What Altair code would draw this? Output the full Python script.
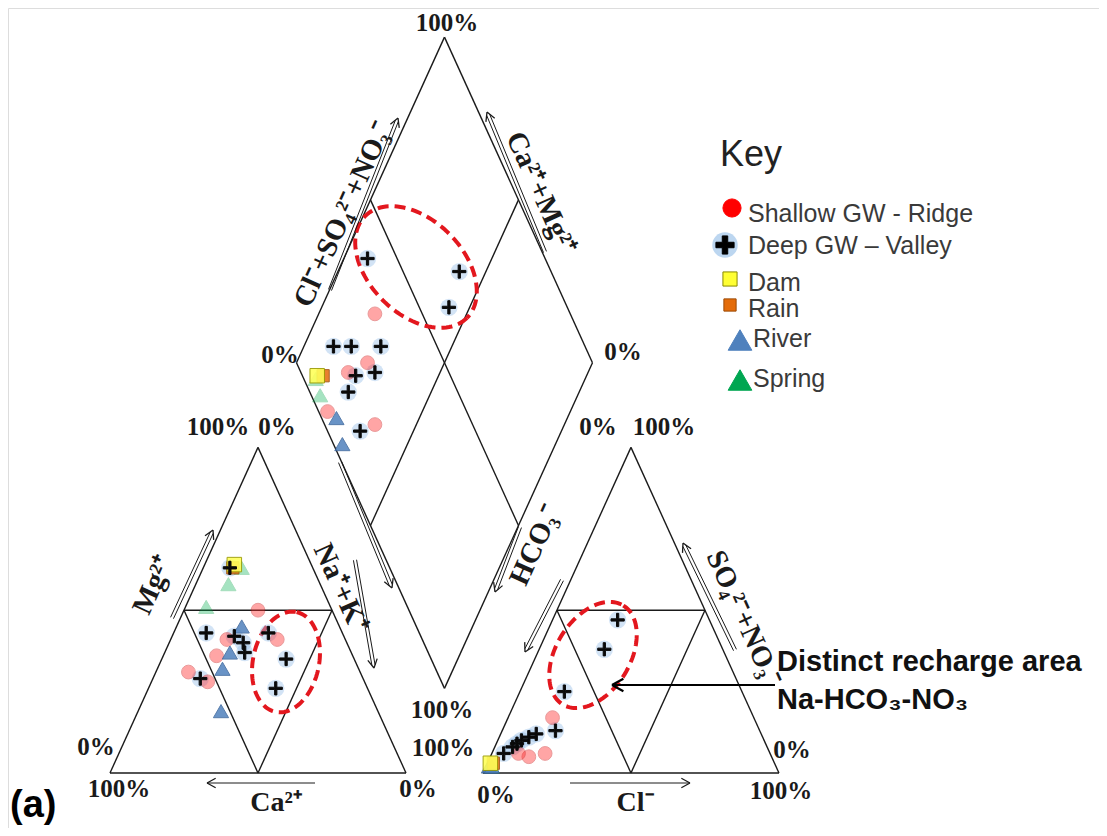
import math
import altair as alt
import pandas as pd

# ---------------- values ----------------
groups = ["Shallow GW - Ridge", "Deep GW \u2013 Valley", "Dam", "Rain", "River", "Spring"]

# Cation triangle: % Ca2+, Mg2+, Na+ + K+
cat_shallow_ca = [25, 40, 46, 58, 53, 23]
cat_shallow_mg = [50, 41, 36, 31, 28, 41]
cat_shallow_nak = [25, 19, 18, 11, 19, 36]
cat_deep_ca = [28, 46, 37, 35, 36, 25, 23, 31, 55]
cat_deep_mg = [63, 43, 42, 40, 37, 43, 35, 26, 29]
cat_deep_nak = [9, 11, 21, 25, 27, 32, 42, 43, 16]
cat_dam_ca, cat_dam_mg, cat_dam_nak = [26], [64], [10]
cat_rain_ca, cat_rain_mg, cat_rain_nak = [27], [63], [10]
cat_river_ca = [33, 41, 46, 53]
cat_river_mg = [45, 37, 32, 19]
cat_river_nak = [22, 22, 22, 28]
cat_spring_ca = [24, 31, 42]
cat_spring_mg = [63, 58, 51]
cat_spring_nak = [13, 11, 7]

# Anion triangle: % HCO3-, Cl-, SO4 2- + NO3-
an_shallow_hco3 = [68, 76, 82, 85]
an_shallow_cl = [15, 18, 13, 9]
an_shallow_so4 = [17, 6, 5, 6]
an_deep_hco3 = [31, 40, 60, 69, 76, 79, 82, 84, 86, 90]
an_deep_cl = [22, 22, 15, 18, 12, 10, 8, 7, 6, 4]
an_deep_so4 = [47, 38, 25, 13, 12, 11, 10, 9, 8, 6]
an_dam_hco3, an_dam_cl, an_dam_so4 = [96], [1], [3]
an_rain_hco3, an_rain_cl, an_rain_so4 = [95], [2], [3]
an_river_hco3, an_river_cl, an_river_so4 = [97, 96], [1, 2], [2, 2]
an_spring_hco3, an_spring_cl, an_spring_so4 = [96], [2], [2]

# Diamond: % Na+ + K+, % Cl- + SO4 2- + NO3-
dia_shallow_nak = [19, 24, 19, 18, 36]
dia_shallow_cl = [34, 24, 16, 3, 17]
dia_deep_nak = [8, 41, 43, 10, 16, 26, 22, 28, 22, 32]
dia_deep_cl = [40, 69, 60, 15, 21, 31, 18, 25, 13, 11]
dia_dam_nak, dia_dam_cl = [9], [5]
dia_rain_nak, dia_rain_cl = [11], [7]
dia_river_nak, dia_river_cl = [22, 28], [5, 3]
dia_spring_nak, dia_spring_cl = [9, 13], [4, 3]

# ---------------- geometry ----------------
H = math.sqrt(3) / 2
GAP = 0.26
OFF = 1 + GAP
B = (1 + GAP / 2, GAP * H)
L = (B[0] - 0.5, B[1] + H)
R = (B[0] + 0.5, B[1] + H)
T = (B[0], B[1] + 2 * H)

W, HH = 1091, 820
SX, SY = 296.0, 376.0
X0 = (8 - 110) / SX
X1 = X0 + W / SX
Y1 = (773 - 8) / SY
Y0 = Y1 - HH / SY


def P(px, py):
    """reference-page pixel -> plot units (for annotations)"""
    return (px - 110) / SX, (773 - py) / SY


xs = alt.Scale(domain=[X0, X1], nice=False, zero=False)
ys = alt.Scale(domain=[Y0, Y1], nice=False, zero=False)


def ex(f="x"):
    return alt.X(f + ":Q", scale=xs, axis=None)


def ey(f="y"):
    return alt.Y(f + ":Q", scale=ys, axis=None)


def mid(a, b):
    return ((a[0] + b[0]) / 2, (a[1] + b[1]) / 2)


segs = []
for o in (0, OFF):
    a, b, c = (o, 0), (o + 1, 0), (o + 0.5, H)
    m1, m2, m3 = mid(a, c), mid(b, c), mid(a, b)
    segs += [(a, b), (a, c), (b, c), (m1, m2), (m1, m3), (m2, m3)]
segs += [(L, T), (T, R), (R, B), (B, L), (mid(L, T), mid(R, B)), (mid(T, R), mid(B, L))]
frame_df = pd.DataFrame([dict(x=s[0][0], y=s[0][1], x2=s[1][0], y2=s[1][1]) for s in segs])

# ---------------- points ----------------
PLUS = "M-1,-0.17H-0.17V-1H0.17V-0.17H1V0.17H0.17V1H-0.17V0.17H-1Z"
PLUS_BIG = "M-1,-0.3H-0.3V-1H0.3V-0.3H1V0.3H0.3V1H-0.3V0.3H-1Z"
STYLE = {
    groups[0]: dict(shape="circle", fill="#ff2a2a", stroke="#cc1010", opacity=0.42, size=190),
    groups[1]: dict(shape=PLUS, fill="#0a0a0a", stroke="#0a0a0a", opacity=1.0, size=175),
    groups[2]: dict(shape="square", fill="#ffff5a", stroke="#9a9a00", opacity=0.9, size=210),
    groups[3]: dict(shape="square", fill="#e46c0a", stroke="#9c4a06", opacity=0.85, size=150),
    groups[4]: dict(shape="triangle-up", fill="#4f81bd", stroke="#3a659c", opacity=0.85, size=230),
    groups[5]: dict(shape="triangle-up", fill="#00b050", stroke="#00a040", opacity=0.35, size=230),
}
DRAW_ORDER = [groups[0], groups[5], groups[4], groups[3], groups[2], groups[1]]

cations = {
    groups[0]: (cat_shallow_mg, cat_shallow_nak),
    groups[1]: (cat_deep_mg, cat_deep_nak),
    groups[2]: (cat_dam_mg, cat_dam_nak),
    groups[3]: (cat_rain_mg, cat_rain_nak),
    groups[4]: (cat_river_mg, cat_river_nak),
    groups[5]: (cat_spring_mg, cat_spring_nak),
}
anions = {
    groups[0]: (an_shallow_cl, an_shallow_so4),
    groups[1]: (an_deep_cl, an_deep_so4),
    groups[2]: (an_dam_cl, an_dam_so4),
    groups[3]: (an_rain_cl, an_rain_so4),
    groups[4]: (an_river_cl, an_river_so4),
    groups[5]: (an_spring_cl, an_spring_so4),
}
diamond = {
    groups[0]: (dia_shallow_nak, dia_shallow_cl),
    groups[1]: (dia_deep_nak, dia_deep_cl),
    groups[2]: (dia_dam_nak, dia_dam_cl),
    groups[3]: (dia_rain_nak, dia_rain_cl),
    groups[4]: (dia_river_nak, dia_river_cl),
    groups[5]: (dia_spring_nak, dia_spring_cl),
}

rows = []
for rank, g in enumerate(DRAW_ORDER):
    st = STYLE[g]
    mg, nak = cations[g]
    for m, n in zip(mg, nak):
        rows.append(dict(x=(n + m / 2) / 100, y=m / 100 * H, group=g, rank=rank, **st))
    cl, so4 = anions[g]
    for c, s in zip(cl, so4):
        rows.append(dict(x=OFF + (c + s / 2) / 100, y=s / 100 * H, group=g, rank=rank, **st))
    na, ss = diamond[g]
    for n, s in zip(na, ss):
        rows.append(dict(x=L[0] + 0.5 * (n + s) / 100, y=L[1] + H * (s - n) / 100,
                         group=g, rank=rank, **st))
pts = pd.DataFrame(rows).sort_values("rank", kind="stable")
deep_pts = pts[pts.group == groups[1]]

# ---------------- annotations ----------------
pct_labels = [("100%", 447, 23), ("0%", 280, 355), ("0%", 623, 352), ("100%", 442, 710),
              ("100%", 218, 427), ("0%", 277, 427), ("0%", 598, 427), ("100%", 664, 427),
              ("0%", 96, 747), ("100%", 119, 789), ("0%", 418, 789), ("100%", 443, 748),
              ("0%", 496, 795), ("100%", 781, 791), ("0%", 792, 750)]
flat_ions = [("Ca\u00b2\u207a", 276, 803, 0), ("Cl\u207b", 635, 803, 0)]
rot_ions = [("Cl\u207b+SO\u2084\u00b2\u207b+NO\u2083\u207b", 343, 214, 294.3),
            ("Ca\u00b2\u207a+Mg\u00b2\u207a", 541, 193, 65.7),
            ("Mg\u00b2\u207a", 153, 585, 294.3), ("Na\u207a+K\u207a", 341, 588, 65.7),
            ("HCO\u2083\u207b", 535, 545, 294.3), ("SO\u2084\u00b2\u207b+NO\u2083\u207b", 744, 618, 65.7)]


def tdf(items):
    out = []
    for it in items:
        x, y = P(it[1], it[2])
        out.append(dict(text=it[0], x=x, y=y, angle=(it[3] if len(it) > 3 else 0)))
    return pd.DataFrame(out)


pct_df = tdf(pct_labels)
flat_df = tdf(flat_ions)
rot_df = tdf(rot_ions)

# arrows: (start px, end px, double shaft?)
arrows = [(330, 290, 398, 118, True), (545, 252, 487, 112, True), (172, 618, 213, 530, True),
          (340, 462, 392, 588, True), (355, 560, 374, 668, True), (520, 527, 495, 592, True),
          (562, 580, 525, 652, True), (735, 650, 683, 543, True), (315, 783, 207, 783, False),
          (570, 783, 690, 783, False)]
shaft, heads = [], []
for (a, b, c, d, dbl) in arrows:
    ln = math.hypot(c - a, d - b)
    nx, ny = -(d - b) / ln, (c - a) / ln
    offs = (-1.6, 1.6) if dbl else (0,)
    back = 3 if dbl else 0
    for o in offs:
        p1 = P(a + nx * o, b + ny * o)
        p2 = P(c - (c - a) / ln * back + nx * o, d - (d - b) / ln * back + ny * o)
        shaft.append(dict(x=p1[0], y=p1[1], x2=p2[0], y2=p2[1]))
    p2 = P(c, d)
    heads.append(dict(x=p2[0], y=p2[1], angle=math.degrees(math.atan2(d - b, c - a)) % 360))
shaft_df, heads_df = pd.DataFrame(shaft), pd.DataFrame(heads)
HEAD = "M0,0L-1,-0.55M0,0L-1,0.55"

call_p1, call_p2 = P(775, 685), P(612, 685)
call_df = pd.DataFrame([dict(x=call_p1[0], y=call_p1[1], x2=call_p2[0], y2=call_p2[1])])
call_head = pd.DataFrame([dict(x=call_p2[0], y=call_p2[1], angle=180)])

ellipses = [((416, 267), 72, 47, 45), ((286, 662), 51, 33, -78), ((593, 655), 58, 37, -58.5)]
erows = []
for i, ((cx, cy), a, b, rot) in enumerate(ellipses):
    th = math.radians(rot)
    for k in range(121):
        t = 2 * math.pi * k / 120
        ux, uy = a * math.cos(t), b * math.sin(t)
        px = cx + ux * math.cos(th) - uy * math.sin(th)
        py = cy + ux * math.sin(th) + uy * math.cos(th)
        x, y = P(px, py)
        erows.append(dict(x=x, y=y, id=i, k=k))
ell_df = pd.DataFrame(erows)

key_rows = [(groups[0], 732, 208, 748, 214, "circle", "#ff0000", 330),
            (groups[1], 725, 245, 748, 246, PLUS_BIG, "#000000", 330),
            (groups[2], 730, 279, 748, 283, "square", "#ffff33", 200),
            (groups[3], 730, 305, 748, 309, "square", "#e46c0a", 150),
            (groups[4], 740, 340, 753, 339, "triangle-up", "#4f81bd", 560),
            (groups[5], 740, 380, 753, 379, "triangle-up", "#00a651", 560)]
ksym, klab = [], []
for g, sx, sy, lx, ly, shp, col, sz in key_rows:
    p = P(sx, sy)
    ksym.append(dict(x=p[0], y=p[1], shape=shp, fill=col, size=sz,
                     stroke=("#8a8a00" if g == "Dam" else ("#9c4a06" if g == "Rain" else col))))
    q = P(lx, ly)
    klab.append(dict(x=q[0], y=q[1], text=g))
ksym_df, klab_df = pd.DataFrame(ksym), pd.DataFrame(klab)
khalo = pd.DataFrame([dict(x=P(725, 245)[0], y=P(725, 245)[1])])

side_txt = pd.DataFrame([dict(text="Distinct recharge area", x=P(777, 662)[0], y=P(777, 662)[1]),
                         dict(text="Na-HCO\u2083-NO\u2083", x=P(777, 700)[0], y=P(777, 700)[1])])
a_txt = pd.DataFrame([dict(text="(a)", x=P(10, 806)[0], y=P(10, 806)[1])])
key_title = pd.DataFrame([dict(text="Key", x=P(720, 155)[0], y=P(720, 155)[1])])

SERIF = "Liberation Serif"
SANS = "Liberation Sans"

# ---------------- layers ----------------
frame = alt.Chart(frame_df).mark_rule(color="#1a1a1a", strokeWidth=1.4).encode(
    x=ex(), y=ey(), x2="x2:Q", y2="y2:Q")

halo = alt.Chart(deep_pts).mark_point(filled=True, shape="circle", size=300, color="#9cc2e8",
                                      opacity=0.45).encode(x=ex(), y=ey())

points = alt.Chart(pts).mark_point(filled=True, strokeWidth=1).encode(
    x=ex(), y=ey(),
    shape=alt.Shape("shape:N", scale=None),
    fill=alt.Fill("fill:N", scale=None),
    stroke=alt.Stroke("stroke:N", scale=None),
    opacity=alt.Opacity("opacity:Q", scale=None),
    size=alt.Size("size:Q", scale=None))

ell = alt.Chart(ell_df).mark_line(color="#e3171e", strokeWidth=4, strokeDash=[11, 6]).encode(
    x=ex(), y=ey(), detail="id:N", order="k:Q")

pct = alt.Chart(pct_df).mark_text(font=SERIF, fontWeight="bold", fontSize=25, color="#1a1a1a",
                                  baseline="middle", align="center").encode(
    x=ex(), y=ey(), text="text:N")
flat = alt.Chart(flat_df).mark_text(font=SERIF, fontWeight="bold", fontSize=28, color="#1a1a1a",
                                    baseline="middle", align="center").encode(
    x=ex(), y=ey(), text="text:N")
rot = alt.Chart(rot_df).mark_text(font=SERIF, fontWeight="bold", fontSize=29, color="#1a1a1a",
                                  baseline="middle", align="center").encode(
    x=ex(), y=ey(), text="text:N", angle=alt.Angle("angle:Q", scale=None))

shafts = alt.Chart(shaft_df).mark_rule(color="#1a1a1a", strokeWidth=1.0).encode(
    x=ex(), y=ey(), x2="x2:Q", y2="y2:Q")
arrowheads = alt.Chart(heads_df).mark_point(shape=HEAD, filled=False, color="#1a1a1a",
                                            strokeWidth=1.3, size=300, opacity=1).encode(
    x=ex(), y=ey(), angle=alt.Angle("angle:Q", scale=None))

callout = alt.Chart(call_df).mark_rule(color="#000000", strokeWidth=2.2).encode(
    x=ex(), y=ey(), x2="x2:Q", y2="y2:Q")
callout_head = alt.Chart(call_head).mark_point(shape=HEAD, filled=False, color="#000000",
                                               strokeWidth=2.2, size=520, opacity=1).encode(
    x=ex(), y=ey(), angle=alt.Angle("angle:Q", scale=None))

side = alt.Chart(side_txt).mark_text(font=SANS, fontWeight="bold", fontSize=29, color="#111111",
                                     align="left", baseline="middle").encode(
    x=ex(), y=ey(), text="text:N")
atext = alt.Chart(a_txt).mark_text(font=SANS, fontWeight="bold", fontSize=38, color="#000000",
                                   align="left", baseline="middle").encode(
    x=ex(), y=ey(), text="text:N")
ktitle = alt.Chart(key_title).mark_text(font=SANS, fontSize=36, color="#222222",
                                        align="left", baseline="middle").encode(
    x=ex(), y=ey(), text="text:N")
khalo_l = alt.Chart(khalo).mark_point(filled=True, shape="circle", size=650, color="#8fbbe6",
                                      opacity=0.6).encode(x=ex(), y=ey())
ksyms = alt.Chart(ksym_df).mark_point(filled=True, strokeWidth=1, opacity=1).encode(
    x=ex(), y=ey(),
    shape=alt.Shape("shape:N", scale=None),
    fill=alt.Fill("fill:N", scale=None),
    stroke=alt.Stroke("stroke:N", scale=None),
    size=alt.Size("size:Q", scale=None))
klabs = alt.Chart(klab_df).mark_text(font=SANS, fontSize=25, color="#3a3a3a", align="left",
                                     baseline="middle").encode(x=ex(), y=ey(), text="text:N")

chart = alt.layer(
    frame, ell, halo, points, shafts, arrowheads, callout, callout_head,
    pct, flat, rot, side, atext, ktitle, khalo_l, ksyms, klabs
).properties(
    width=W, height=HH, padding=0, autosize=alt.AutoSizeParams(type="none")
).configure_view(stroke=None).configure(background="white")

chart.save("out.html", embed_options={"renderer": "svg", "actions": False})
